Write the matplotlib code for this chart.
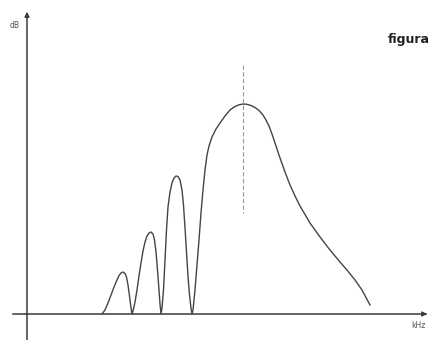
import matplotlib
matplotlib.use("Agg")
import matplotlib.pyplot as plt

# Frequency response curve
# (x: frequency in arbitrary units, level_py: vertical pixel position)
freq = [102, 105, 108, 111, 114, 117, 119, 121, 123, 125, 126.5, 128, 129.5, 131, 132,
        133, 135, 137, 139, 141, 143, 145, 147, 149, 151, 153, 154.5, 156, 157.5, 159, 160, 161,
        162, 163.5, 165, 166.5, 168, 170, 172, 174, 176, 178, 180, 182, 183.5, 185, 186.5, 188, 189.5, 191, 192,
        193, 195, 197, 199, 201, 203, 205, 207, 209, 212, 216, 220, 225, 230, 235, 239, 243,
        247, 251, 255, 259, 263, 266, 269, 272, 276, 280, 285, 290, 295, 300, 310, 320, 330,
        340, 347, 355, 362, 370]
level_py = [314, 310, 303, 295, 287, 280, 275.5, 273, 272, 273.5, 277, 285, 296, 308, 314,
            311, 302, 290, 276, 263, 251, 242, 236, 233, 232, 234, 240, 252, 270, 290, 304, 314,
            308, 290, 260, 230, 207, 192, 183, 178, 176, 176.5, 180, 190, 205, 228, 252, 276, 295, 308, 314,
            310, 290, 265, 240, 213, 190, 170, 155, 146, 137, 129, 123, 116, 110, 106.5, 104.8, 104,
            104.3, 105.5, 107.5, 110.5, 115, 120, 126, 134, 146, 158, 172, 185, 196, 206, 223, 237, 250,
            262, 270, 280, 290, 305]
BASE = 314
level = [BASE - v for v in level_py]

peak_freq = 243
peak_marker = [BASE - 65, BASE - 213]

fig = plt.figure(figsize=(4.32, 3.40), dpi=100)
ax = fig.add_axes([0, 0, 1, 1])
ax.set_xlim(0, 432)
ax.set_ylim(BASE - 340, BASE)
ax.axis("off")

col = "#3a3a3a"
# axes
ax.plot([13, 426], [0, 0], color=col, lw=1.1)
ax.annotate("", xy=(430, 0), xytext=(420, 0),
            arrowprops=dict(arrowstyle="-|>", color=col, lw=1.0, mutation_scale=7))
ax.plot([27, 27], [BASE - 340, BASE - 14], color=col, lw=1.1)
ax.annotate("", xy=(27, BASE - 9), xytext=(27, BASE - 20),
            arrowprops=dict(arrowstyle="-|>", color=col, lw=1.0, mutation_scale=7))

# curve
ax.plot(freq, level, color="#444444", lw=1.0, solid_joinstyle="round")
# dashed marker at peak
ax.plot([peak_freq, peak_freq], peak_marker, color="#999999", lw=0.8, ls=(0, (4, 2)))

ax.text(14.5, BASE - 25, "dB", fontsize=5.5, color="#555555", ha="center", va="center")
ax.text(418, BASE - 326, "kHz", fontsize=5.5, color="#555555", ha="center", va="center")
ax.text(430, BASE - 43, "figura", fontsize=9, fontweight="bold", color="#222222",
        ha="right", va="baseline")

fig.savefig("out.png", dpi=100)
